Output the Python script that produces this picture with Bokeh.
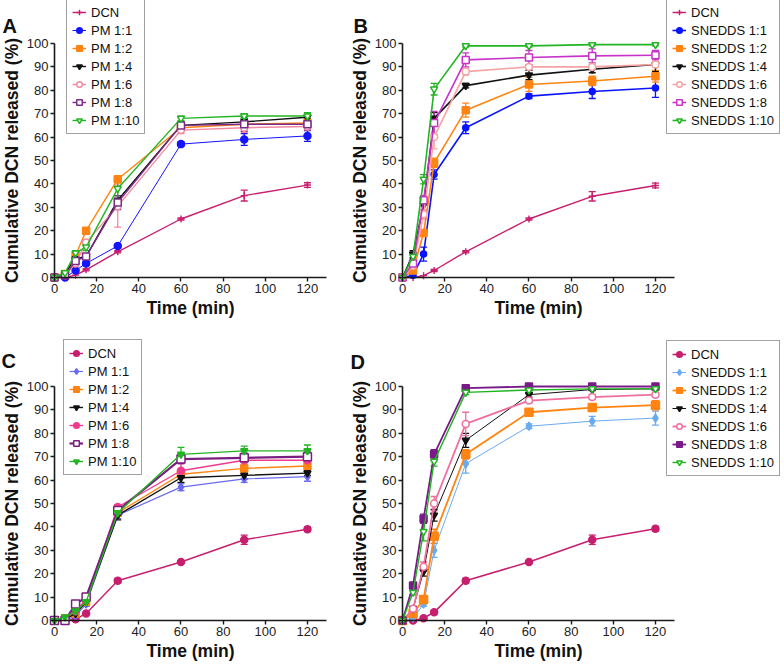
from bokeh.plotting import figure
from bokeh.models import (ColumnDataSource, Whisker, TeeHead, Legend, LegendItem,
                          FixedTicker, Label, Range1d)
from bokeh.layouts import column, row
from bokeh.embed import file_html
from bokeh.resources import INLINE

# ---------------- data ----------------
time_min = [0, 5, 10, 15, 30, 60, 90, 120]
x_ticks = [0, 20, 40, 60, 80, 100, 120]
y_ticks = [0, 10, 20, 30, 40, 50, 60, 70, 80, 90, 100]

# Panel A: DCN and physical mixtures
labels_a = ["DCN", "PM 1:1", "PM 1:2", "PM 1:4", "PM 1:6", "PM 1:8", "PM 1:10"]
dcn_a = [0, 0, 1, 3.3, 11, 25, 35, 39.5]
dcn_a_err = [0, 0, 0, 0.5, 0.5, 0.5, 2.3, 1]
pm11_a = [0, 0, 3, 6, 13.5, 57, 59, 60.5]
pm11_a_err = [0, 0, 0.5, 0.8, 0.8, 1, 2.5, 2.3]
pm12_a = [0, 1.5, 9.5, 20, 42, 64, 65.5, 66]
pm12_a_err = [0, 0.5, 1, 1, 1.5, 1.5, 1, 1]
pm14_a = [0, 2, 8, 9, 33, 65, 66.5, 68.5]
pm14_a_err = [0, 0.5, 1, 1, 2, 1.5, 1.5, 2]
pm16_a = [0, 1, 6, 15, 30.5, 63, 64, 64.5]
pm16_a_err = [0, 0.5, 1, 1, 9, 1.5, 2, 1.5]
pm18_a = [0, 1, 7, 9, 32, 65, 65.5, 65.5]
pm18_a_err = [0, 0.5, 1, 1, 3, 1.5, 3, 2.5]
pm110_a = [0, 2, 10.5, 13, 38, 68, 69, 69]
pm110_a_err = [0, 0.5, 1, 1.5, 5, 1, 1, 1.5]

# Panel B: DCN and SNEDDS
labels_b = ["DCN", "SNEDDS 1:1", "SNEDDS 1:2", "SNEDDS 1:4", "SNEDDS 1:6", "SNEDDS 1:8", "SNEDDS 1:10"]
dcn_b = [0, 0, 0.8, 3, 11, 25, 34.7, 39.3]
dcn_b_err = [0, 0, 0, 0.5, 0.5, 0.5, 2, 1]
s11_b = [0, 1, 10, 44, 64, 77.5, 79.5, 81]
s11_b_err = [0, 0.5, 3, 2, 2.5, 1, 3, 4]
s12_b = [0, 3, 19, 49, 71.5, 82.5, 84, 86]
s12_b_err = [0, 1, 1, 2, 3, 3, 2, 2.5]
s14_b = [0, 10, 31, 68, 82, 86.5, 89, 91]
s14_b_err = [0, 1.5, 2, 2.5, 1, 2, 1.5, 3]
s16_b = [0, 5, 27, 60, 88, 90, 90, 91]
s16_b_err = [0, 1, 2, 5, 1.5, 1, 1, 1]
s18_b = [0, 6, 33, 66, 93, 94, 94.7, 95]
s18_b_err = [0, 1, 2, 5, 3, 3, 3, 2]
s110_b = [0, 9, 42, 80.5, 99, 99, 99.5, 99.5]
s110_b_err = [0, 1, 2, 2.5, 0.5, 0.5, 0.5, 0.5]

# Panel C: DCN and physical mixtures
labels_c = ["DCN", "PM 1:1", "PM 1:2", "PM 1:4", "PM 1:6", "PM 1:8", "PM 1:10"]
dcn_c = [0, 0, 0.5, 3, 17, 25, 34.5, 39]
dcn_c_err = [0, 0, 0, 0.5, 1, 0.5, 2, 1]
pm11_c = [0, 0, 2, 7, 45, 57, 60.5, 61.5]
pm11_c_err = [0, 0, 0.5, 1, 1.5, 1.5, 1.5, 2]
pm12_c = [0, 1, 3, 8, 46, 62.5, 65, 66]
pm12_c_err = [0, 0.5, 0.5, 1, 1.5, 1.5, 1.5, 2]
pm14_c = [0, 0.5, 3, 8, 45, 61, 62, 63]
pm14_c_err = [0, 0.5, 0.5, 1, 2, 2, 1.5, 1]
pm16_c = [0, 1, 4, 9, 48.5, 64, 68.5, 68.5]
pm16_c_err = [0, 0.5, 0.5, 1, 1, 3, 2, 2]
pm18_c = [0, 0, 7, 10, 47, 69, 69.5, 70]
pm18_c_err = [0, 0.5, 1, 1, 1, 2, 2, 2]
pm110_c = [0, 1.5, 4, 8, 46, 71, 72.5, 72.5]
pm110_c_err = [0, 0.5, 1, 1.5, 1.5, 3, 2, 2.5]

# Panel D: DCN and SNEDDS
labels_d = ["DCN", "SNEDDS 1:1", "SNEDDS 1:2", "SNEDDS 1:4", "SNEDDS 1:6", "SNEDDS 1:8", "SNEDDS 1:10"]
dcn_d = [0, 0, 1, 3.5, 17, 25, 34.5, 39.2]
dcn_d_err = [0, 0, 0.5, 0.5, 1, 0.5, 2, 1]
s11_d = [0, 1, 7, 30, 67, 83, 85.2, 86.5]
s11_d_err = [0, 0.5, 1, 3, 4, 1, 2, 3]
s12_d = [0, 3, 9, 36, 71, 89, 91, 92]
s12_d_err = [0, 1, 1.5, 3, 2, 1, 1.5, 2]
s14_d = [0, 5, 21, 45, 77, 96.5, 98.7, 99]
s14_d_err = [0, 1, 2, 2.5, 3, 1, 0.5, 0.5]
s16_d = [0, 5, 23, 50, 84, 94, 95.5, 96.5]
s16_d_err = [0, 1, 2, 3, 5, 1, 1, 1]
s18_d = [0, 15, 43.5, 71, 99.3, 100, 100, 100]
s18_d_err = [0, 1, 2, 2, 0.5, 0.5, 0.5, 0.5]
s110_d = [0, 12, 38, 68, 97.5, 98.5, 99, 99]
s110_d_err = [0, 1, 4, 2, 1, 0.5, 0.5, 0.5]

# ---------------- styles ----------------
FONT = "Liberation Sans"
CRIMSON = "#c81e6e"
ORANGE = "#ff8412"
BLACK = "#111111"
GREEN = "#22b422"

# (color, marker, filled, line_width, size)
style_a = [(CRIMSON, "cross", True, 1.4, 7), ("#1414ff", "circle", True, 1.0, 7),
           (ORANGE, "square", True, 1.4, 7), (BLACK, "inverted_triangle", True, 1.4, 7),
           ("#f28aa2", "circle", False, 1.4, 7), ("#7b2a8a", "square", False, 1.4, 7),
           (GREEN, "inverted_triangle", False, 1.4, 7)]
style_b = [(CRIMSON, "cross", True, 1.4, 7), ("#0a14ff", "circle", True, 1.6, 6),
           (ORANGE, "square", True, 1.6, 7), (BLACK, "inverted_triangle", True, 1.6, 7),
           ("#f5a3a3", "circle", False, 1.6, 7), ("#c832c8", "square", False, 1.6, 7),
           (GREEN, "inverted_triangle", False, 1.6, 7)]
style_c = [(CRIMSON, "circle", True, 1.4, 7), ("#6a6af0", "diamond", True, 1.2, 8),
           (ORANGE, "square", True, 1.4, 7), (BLACK, "inverted_triangle", True, 1.4, 7),
           ("#f03c8c", "circle", True, 1.4, 7), ("#7a1e80", "square", False, 2.2, 8),
           (GREEN, "inverted_triangle", True, 1.4, 7)]
style_d = [(CRIMSON, "circle", True, 1.6, 7), ("#6aaaf0", "diamond", True, 1.0, 8),
           (ORANGE, "square", True, 1.8, 8), (BLACK, "inverted_triangle", True, 1.0, 7),
           ("#f06e9e", "circle", False, 1.8, 7), ("#7a1a88", "square", True, 1.8, 7),
           (GREEN, "inverted_triangle", False, 1.4, 7)]

# ---------------- geometry (pixels) ----------------
PX_PER_MIN = 2.108
PX_PER_PCT = 2.34
W_LEFT, W_RIGHT = 345, 439
H_TOP, H_BOT = 333, 332
LEGEND_H = 134


def make_panel(letter, labels, values, errs, styles, w, h, x0_px, y0_px,
               legend_xy, letter_xy):
    # x0_px: pixel (from left) of time 0 ; y0_px: pixel (from top) of 0 %
    xr = Range1d(-x0_px / PX_PER_MIN, (w - x0_px) / PX_PER_MIN)
    yr = Range1d(-(h - y0_px) / PX_PER_PCT, y0_px / PX_PER_PCT)
    p = figure(width=w, height=h, x_range=xr, y_range=yr, title=None,
               min_border=0, min_border_left=0, min_border_right=0,
               min_border_top=0, min_border_bottom=0,
               output_backend="svg", toolbar_location=None, tools="")
    p.outline_line_color = None
    p.grid.visible = False
    p.background_fill_color = "white"
    p.border_fill_color = "white"

    for ax in (p.xaxis[0], p.yaxis[0]):
        ax.fixed_location = 0
        ax.axis_line_width = 1.6
        ax.axis_line_color = "#1a1a1a"
        ax.major_tick_line_width = 1.4
        ax.major_tick_line_color = "#1a1a1a"
        ax.major_tick_out = 4
        ax.major_tick_in = 0
        ax.minor_tick_line_color = None
        ax.major_label_text_font = FONT
        ax.major_label_text_font_size = "13px"
        ax.major_label_text_color = "#222222"
        ax.major_label_standoff = 2
        ax.axis_label_text_font = FONT
        ax.axis_label_text_font_size = "17.5px"
        ax.axis_label_text_font_style = "bold"
        ax.axis_label_text_color = "#111111"
        ax.axis_label_standoff = 2
    p.xaxis[0].ticker = FixedTicker(ticks=x_ticks)
    p.yaxis[0].ticker = FixedTicker(ticks=y_ticks)
    p.xaxis[0].bounds = (0, 129)
    p.yaxis[0].bounds = (0, 100)
    p.xaxis[0].axis_label = "Time (min)"
    p.yaxis[0].axis_label = "Cumulative DCN released (%)"

    items = []
    for lab, vals, er, st in zip(labels, values, errs, styles):
        color, marker, filled, lw, size = st
        src = ColumnDataSource(dict(x=time_min, y=vals))
        ln = p.line("x", "y", source=src, line_color=color, line_width=lw)
        wx = [t for t, e in zip(time_min, er) if e > 0]
        wu = [v + e for v, e in zip(vals, er) if e > 0]
        wl = [v - e for v, e in zip(vals, er) if e > 0]
        wsrc = ColumnDataSource(dict(x=wx, upper=wu, lower=wl))
        wh = Whisker(base="x", upper="upper", lower="lower", source=wsrc,
                     line_color=color, line_width=1.3,
                     upper_head=TeeHead(size=7, line_color=color, line_width=1.3),
                     lower_head=TeeHead(size=7, line_color=color, line_width=1.3))
        p.add_layout(wh)
        sc = p.scatter("x", "y", source=src, marker=marker, size=size,
                       line_color=color, line_width=1.5 if marker != "cross" else 1.4,
                       fill_color=color if filled else "white")
        items.append(LegendItem(label=lab, renderers=[ln, sc]))

    leg = Legend(items=items, location=legend_xy,
                 label_text_font=FONT, label_text_font_size="13px",
                 label_text_color="#111111",
                 label_height=16, glyph_height=16, glyph_width=14,
                 label_standoff=5, spacing=2, padding=5, margin=0,
                 border_line_color="#444444", border_line_width=1,
                 background_fill_color="white", background_fill_alpha=1)
    p.add_layout(leg, "center")

    p.add_layout(Label(x=letter_xy[0], y=letter_xy[1],
                       x_units="screen", y_units="screen", text=letter,
                       text_baseline="alphabetic",
                       text_font=FONT, text_font_size="20px", text_font_style="bold",
                       text_color="#111111"))
    return p


pa = make_panel("A", labels_a,
                [dcn_a, pm11_a, pm12_a, pm14_a, pm16_a, pm18_a, pm110_a],
                [dcn_a_err, pm11_a_err, pm12_a_err, pm14_a_err, pm16_a_err, pm18_a_err, pm110_a_err],
                style_a, W_LEFT, H_TOP, 54, 277,
                (66, H_TOP - LEGEND_H), (2, H_TOP - 25))
pb = make_panel("B", labels_b,
                [dcn_b, s11_b, s12_b, s14_b, s16_b, s18_b, s110_b],
                [dcn_b_err, s11_b_err, s12_b_err, s14_b_err, s16_b_err, s18_b_err, s110_b_err],
                style_b, W_RIGHT, H_TOP, 57, 277,
                (321, H_TOP - LEGEND_H), (8, H_TOP - 25))
pc = make_panel("C", labels_c,
                [dcn_c, pm11_c, pm12_c, pm14_c, pm16_c, pm18_c, pm110_c],
                [dcn_c_err, pm11_c_err, pm12_c_err, pm14_c_err, pm16_c_err, pm18_c_err, pm110_c_err],
                style_c, W_LEFT, H_BOT, 54, 287,
                (63, H_BOT - 8 - LEGEND_H), (1, H_BOT - 27))
pd_ = make_panel("D", labels_d,
                 [dcn_d, s11_d, s12_d, s14_d, s16_d, s18_d, s110_d],
                 [dcn_d_err, s11_d_err, s12_d_err, s14_d_err, s16_d_err, s18_d_err, s110_d_err],
                 style_d, W_RIGHT, H_BOT, 57, 287,
                 (321, H_BOT - 9 - LEGEND_H), (5, H_BOT - 28))

layout = column(row(pa, pb), row(pc, pd_))
open("out.html", "w").write(file_html(layout, INLINE))
